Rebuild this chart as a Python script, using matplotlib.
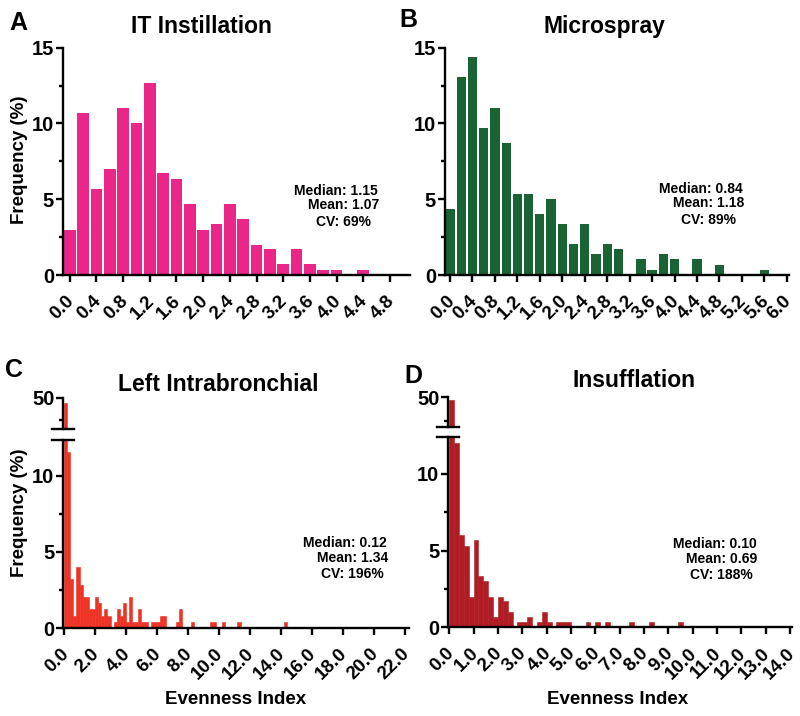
import matplotlib
matplotlib.use("Agg")
import matplotlib.pyplot as plt
from matplotlib.lines import Line2D
from matplotlib.transforms import ScaledTranslation

plt.rcParams['font.family'] = ['Liberation Sans', 'DejaVu Sans']
plt.rcParams['font.weight'] = 'bold'

# ---------------- data ----------------
# Panel A: IT Instillation (bin centres, frequency %)
A_x = [0.0, 0.2, 0.4, 0.6, 0.8, 1.0, 1.2, 1.4, 1.6, 1.8, 2.0, 2.2, 2.4, 2.6,
       2.8, 3.0, 3.2, 3.4, 3.6, 3.8, 4.0, 4.4]
A_y = [3.0, 10.7, 5.7, 7.0, 11.0, 10.0, 12.7, 6.7, 6.35, 4.7, 3.0, 3.35, 4.7,
       3.7, 2.0, 1.7, 0.7, 1.7, 0.7, 0.35, 0.35, 0.35]
A_ticks = [0.0, 0.4, 0.8, 1.2, 1.6, 2.0, 2.4, 2.8, 3.2, 3.6, 4.0, 4.4, 4.8]
A_stats = ["Median: 1.15", "Mean: 1.07", "CV: 69%"]

# Panel B: Microspray (bin centres, frequency %)
B_x = [0.0, 0.2, 0.4, 0.6, 0.8, 1.0, 1.2, 1.4, 1.6, 1.8, 2.0, 2.2, 2.4, 2.6,
       2.8, 3.0, 3.4, 3.6, 3.8, 4.0, 4.4, 4.8, 5.6]
B_y = [4.37, 13.05, 14.37, 9.71, 11.05, 8.73, 5.36, 5.36, 4.02, 5.03, 3.36,
       2.02, 3.36, 1.36, 2.02, 1.69, 1.03, 0.35, 1.36, 1.03, 1.03, 0.68, 0.35]
B_ticks = [0.0, 0.4, 0.8, 1.2, 1.6, 2.0, 2.4, 2.8, 3.2, 3.6, 4.0, 4.4, 4.8,
           5.2, 5.6, 6.0]
B_stats = ["Median: 0.84", "Mean: 1.18", "CV: 89%"]

# Panel C: Left Intrabronchial (bin left edges, frequency %)
C_x = [0.0, 0.2, 0.4, 0.6, 0.8, 1.0, 1.2, 1.4, 1.6, 1.8, 2.0, 2.2, 2.4, 2.6,
       2.8, 3.2, 3.4, 3.6, 3.8, 4.0, 4.2, 4.4, 4.6, 4.8, 5.0, 5.2, 5.6, 5.8,
       6.0, 6.2, 6.4, 7.2, 7.4, 8.2, 9.4, 9.6, 10.2, 11.2, 14.2]
C_y = [48.7, 11.6, 3.25, 0.8, 4.0, 2.85, 2.05, 2.05, 1.25, 1.25, 2.05, 1.65,
       0.8, 1.25, 0.8, 0.4, 1.25, 0.8, 1.65, 0.4, 2.05, 0.4, 0.4, 1.25, 0.4,
       0.4, 0.4, 0.4, 0.4, 0.8, 0.8, 0.4, 1.25, 0.4, 0.4, 0.4, 0.4, 0.4, 0.4]
C_ticks = [0.0, 2.0, 4.0, 6.0, 8.0, 10.0, 12.0, 14.0, 16.0, 18.0, 20.0, 22.0]
C_stats = ["Median: 0.12", "Mean: 1.34", "CV: 196%"]

# Panel D: Insufflation (bin left edges, frequency %)
D_x = [0.0, 0.2, 0.4, 0.6, 0.8, 1.0, 1.2, 1.4, 1.6, 1.8, 2.0, 2.2, 2.4, 2.8,
       3.0, 3.2, 3.6, 3.8, 4.0, 4.4, 4.6, 4.8, 5.6, 6.0, 6.4, 7.4, 8.2, 9.4]
D_y = [49.5, 12.0, 6.0, 5.3, 2.0, 5.7, 3.35, 3.0, 2.0, 0.7, 2.0, 1.7, 1.0,
       0.35, 0.35, 0.7, 0.35, 1.0, 0.35, 0.35, 0.35, 0.35, 0.35, 0.35, 0.35,
       0.35, 0.35, 0.35]
D_ticks = [0.0, 1.0, 2.0, 3.0, 4.0, 5.0, 6.0, 7.0, 8.0, 9.0, 10.0, 11.0,
           12.0, 13.0, 14.0]
D_stats = ["Median: 0.10", "Mean: 0.69", "CV: 188%"]

titles = ["IT Instillation", "Microspray", "Left Intrabronchial", "Insufflation"]
letters = ["A", "B", "C", "D"]
colors = ["#EA2688", "#1A6334", "#EE3325", "#B01C23"]

# ---------------- figure ----------------
W, H = 800, 716
fig = plt.figure(figsize=(W / 100, H / 100), dpi=100)
fig.patch.set_facecolor("white")


def add_ax(l, t, r, b):
    return fig.add_axes([l / W, 1 - b / H, (r - l) / W, (b - t) / H])


def ftext(x, y, s, **kw):
    fig.text(x / W, 1 - y / H, s, **kw)


LW = 1.7
label_shift = ScaledTranslation(-4 / 100, 0, fig.dpi_scale_trans)


def style(ax, bottom=True):
    ax.spines['top'].set_visible(False)
    ax.spines['right'].set_visible(False)
    ax.spines['left'].set_linewidth(LW)
    ax.spines['bottom'].set_linewidth(LW)
    if not bottom:
        ax.spines['bottom'].set_visible(False)
    ax.tick_params(axis='both', which='major', direction='out', width=LW,
                   length=5, labelsize=14.5, pad=1.5)
    ax.tick_params(axis='y', which='minor', direction='out', width=LW, length=3)
    ax.tick_params(axis='x', which='major', labelsize=13.5, pad=7.5)
    ax.set_facecolor('none')


def xtick_setup(ax, ticks):
    ax.set_xticks(ticks)
    ax.set_xticklabels(["%.1f" % t for t in ticks], rotation=45, ha='right',
                       va='top', rotation_mode='anchor', fontweight='bold')
    for lab in ax.get_xticklabels():
        lab.set_transform(lab.get_transform() + label_shift)


# Panel A
axA = add_ax(63, 47.7, 410, 275)
axA.bar(A_x, A_y, width=0.175, color=colors[0], edgecolor='none')
axA.set_xlim(-0.1, 5.1)
axA.set_ylim(0, 15)
style(axA)
axA.set_yticks([0, 5, 10, 15])
axA.set_yticks([2.5, 7.5, 12.5], minor=True)
xtick_setup(axA, A_ticks)

# Panel B
axB = add_ax(445, 47.7, 789, 275)
axB.bar(B_x, B_y, width=0.166, color=colors[1], edgecolor='none')
axB.set_xlim(-0.09, 6.04)
axB.set_ylim(0, 15)
style(axB)
axB.set_yticks([0, 5, 10, 15])
axB.set_yticks([2.5, 7.5, 12.5], minor=True)
xtick_setup(axB, B_ticks)


def broken(l, r, top50, up_bot, lo_top, zero, up_min, lo_max, xs, ys, col,
           xlim, ticks):
    axU = add_ax(l, top50, r, up_bot)
    axL = add_ax(l, lo_top, r, zero)
    for ax in (axU, axL):
        ax.bar(xs, ys, width=0.2, align='edge', color=col, edgecolor=col,
               linewidth=0.4)
        ax.set_xlim(*xlim)
    axU.set_ylim(up_min, 50)
    axL.set_ylim(0, lo_max)
    style(axU, bottom=False)
    style(axL)
    axU.set_xticks([])
    axU.set_yticks([50])
    axU.set_yticks([45], minor=True)
    axL.set_yticks([0, 5, 10])
    axL.set_yticks([2.5, 7.5], minor=True)
    xtick_setup(axL, ticks)
    # break marks
    for yy in (up_bot, lo_top):
        fig.add_artist(Line2D([(l - 11.5) / W, (l + 10.5) / W],
                              [1 - yy / H, 1 - yy / H],
                              transform=fig.transFigure, color='black',
                              linewidth=LW))
    return axU, axL


broken(63.3, 408.5, 397.7, 429.3, 439.5, 628, 42.9, 12.4, C_x, C_y,
       colors[2], (-0.05, 22.25), C_ticks)
broken(448.3, 792, 397.3, 426.7, 436.7, 627.3, 43.8, 12.43, D_x, D_y,
       colors[3], (-0.04, 14.08), D_ticks)

# titles
tprops = dict(fontsize=16.5, fontweight='bold', ha='center', va='baseline')
ftext(201, 32.7, titles[0], **tprops)
ftext(604.5, 33.3, titles[1], **tprops)
ftext(218.3, 390.7, titles[2], **tprops)
ftext(634, 387.3, titles[3], **tprops)

# panel letters
lprops = dict(fontsize=18, fontweight='bold', ha='left', va='baseline')
ftext(9, 30, letters[0], **lprops)
ftext(399, 27, letters[1], **lprops)
ftext(5.5, 376.7, letters[2], **lprops)
ftext(404, 383, letters[3], **lprops)

# axis labels
ftext(20, 160, "Frequency (%)", fontsize=13.5, fontweight='bold', rotation=90,
      ha='center', va='center')
ftext(20, 513, "Frequency (%)", fontsize=13.5, fontweight='bold', rotation=90,
      ha='center', va='center')
ftext(236, 700, "Evenness Index", fontsize=13.5, fontweight='bold',
      ha='center', va='center')
ftext(618, 700, "Evenness Index", fontsize=13.5, fontweight='bold',
      ha='center', va='center')

# statistics text
sprops = dict(fontsize=10, fontweight='bold', ha='left', va='baseline')
for stats, xs, ys in [
        (A_stats, [294.3, 308.3, 316], [195, 209.3, 226]),
        (B_stats, [659.3, 673.3, 681], [193.3, 207.3, 224]),
        (C_stats, [303.3, 316.7, 320.7], [546.7, 561.7, 578.3]),
        (D_stats, [672.7, 686, 690], [547.7, 562.7, 579.3])]:
    for s, x, y in zip(stats, xs, ys):
        ftext(x, y, s, **sprops)

fig.savefig("out.png", dpi=100, facecolor="white")
